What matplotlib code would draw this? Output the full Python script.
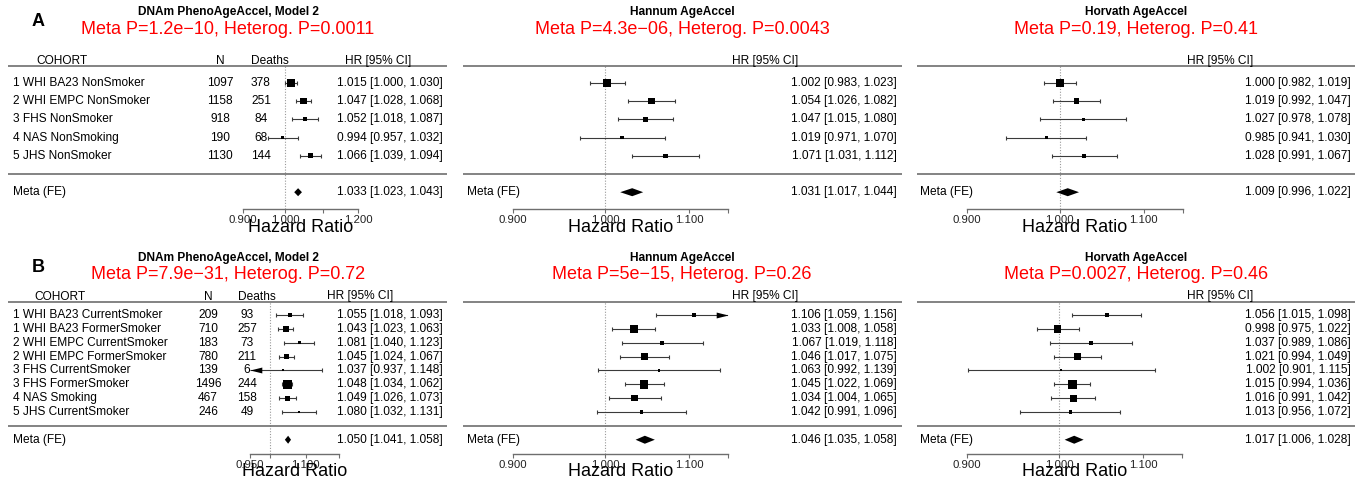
import numpy as np
import matplotlib
matplotlib.use("Agg")
import matplotlib.pyplot as plt
import matplotlib.transforms as mtransforms
from matplotlib.ticker import NullLocator

plt.rcParams['font.family'] = ['Liberation Sans', 'DejaVu Sans']

# ---------------- data ----------------
cohorts_ns = ["1 WHI BA23 NonSmoker", "2 WHI EMPC NonSmoker", "3 FHS NonSmoker",
              "4 NAS NonSmoking", "5 JHS NonSmoker"]
n_ns = [1097, 1158, 918, 190, 1130]
deaths_ns = [378, 251, 84, 68, 144]

pheno_ns_hr = [1.015, 1.047, 1.052, 0.994, 1.066]
pheno_ns_lo = [1.000, 1.028, 1.018, 0.957, 1.039]
pheno_ns_hi = [1.030, 1.068, 1.087, 1.032, 1.094]
pheno_ns_meta = [1.033, 1.023, 1.043]

hannum_ns_hr = [1.002, 1.054, 1.047, 1.019, 1.071]
hannum_ns_lo = [0.983, 1.026, 1.015, 0.971, 1.031]
hannum_ns_hi = [1.023, 1.082, 1.080, 1.070, 1.112]
hannum_ns_meta = [1.031, 1.017, 1.044]

horvath_ns_hr = [1.000, 1.019, 1.027, 0.985, 1.028]
horvath_ns_lo = [0.982, 0.992, 0.978, 0.941, 0.991]
horvath_ns_hi = [1.019, 1.047, 1.078, 1.030, 1.067]
horvath_ns_meta = [1.009, 0.996, 1.022]

cohorts_sm = ["1 WHI BA23 CurrentSmoker", "1 WHI BA23 FormerSmoker",
              "2 WHI EMPC CurrentSmoker", "2 WHI EMPC FormerSmoker",
              "3 FHS CurrentSmoker", "3 FHS FormerSmoker", "4 NAS Smoking",
              "5 JHS CurrentSmoker"]
n_sm = [209, 710, 183, 780, 139, 1496, 467, 246]
deaths_sm = [93, 257, 73, 211, 6, 244, 158, 49]

pheno_sm_hr = [1.055, 1.043, 1.081, 1.045, 1.037, 1.048, 1.049, 1.080]
pheno_sm_lo = [1.018, 1.023, 1.040, 1.024, 0.937, 1.034, 1.026, 1.032]
pheno_sm_hi = [1.093, 1.063, 1.123, 1.067, 1.148, 1.062, 1.073, 1.131]
pheno_sm_meta = [1.050, 1.041, 1.058]

hannum_sm_hr = [1.106, 1.033, 1.067, 1.046, 1.063, 1.045, 1.034, 1.042]
hannum_sm_lo = [1.059, 1.008, 1.019, 1.017, 0.992, 1.022, 1.004, 0.991]
hannum_sm_hi = [1.156, 1.058, 1.118, 1.075, 1.139, 1.069, 1.065, 1.096]
hannum_sm_meta = [1.046, 1.035, 1.058]

horvath_sm_hr = [1.056, 0.998, 1.037, 1.021, 1.002, 1.015, 1.016, 1.013]
horvath_sm_lo = [1.015, 0.975, 0.989, 0.994, 0.901, 0.994, 0.991, 0.956]
horvath_sm_hi = [1.098, 1.022, 1.086, 1.049, 1.115, 1.036, 1.042, 1.072]
horvath_sm_meta = [1.017, 1.006, 1.028]

titles = ["DNAm PhenoAgeAccel, Model 2", "Hannum AgeAccel", "Horvath AgeAccel"]
ptext_ns = ["Meta P=1.2e\u221210, Heterog. P=0.0011",
            "Meta P=4.3e\u221206, Heterog. P=0.0043",
            "Meta P=0.19, Heterog. P=0.41"]
ptext_sm = ["Meta P=7.9e\u221231, Heterog. P=0.72",
            "Meta P=5e\u221215, Heterog. P=0.26",
            "Meta P=0.0027, Heterog. P=0.46"]

# ---------------- figure ----------------
W, H, DPI = 1371, 484, 100
fig = plt.figure(figsize=(W / DPI, H / DPI), dpi=DPI)
fig.patch.set_facecolor("white")
PX = mtransforms.Affine2D().scale(1.0 / W, -1.0 / H).translate(0, 1) + fig.transFigure

FS = 8.6
LINE_GREY = "#6e6e6e"
CI_COL = "#3a3a3a"

RIGHT_ARROW = [(0, 0), (-2, 0.5), (-2, -0.5), (0, 0)]
LEFT_ARROW = [(0, 0), (2, 0.5), (2, -0.5), (0, 0)]


def forest(axis_px, lim, ticks, ticklabels, geo, hr, lo, hi, meta, cols, table=None):
    top_px, axis_y, row1_px, step = geo
    n = len(hr)
    r_top = 1 - (row1_px - top_px) / step
    r_bot = 1 + (axis_y - row1_px) / step
    x0, x1 = axis_px
    ax = fig.add_axes([x0 / W, 1 - axis_y / H, (x1 - x0) / W, (axis_y - top_px) / H])
    ax.set_xscale("log")
    ax.set_xlim(*lim)
    ax.set_ylim(r_bot, r_top)
    ax.patch.set_alpha(0)
    for s in ("top", "left", "right"):
        ax.spines[s].set_visible(False)
    ax.spines["bottom"].set_color(LINE_GREY)
    ax.spines["bottom"].set_linewidth(1.0)
    ax.set_yticks([])
    ax.xaxis.set_minor_locator(NullLocator())
    ax.set_xticks(ticks, labels=ticklabels)
    ax.tick_params(axis="x", length=3, width=0.8, color=LINE_GREY, pad=1,
                   labelsize=8.2, labelcolor="#222222")

    hr = np.asarray(hr, float)
    lo = np.asarray(lo, float)
    hi = np.asarray(hi, float)
    rows = np.arange(1, n + 1)

    ax.axvline(1.0, ls=(0, (1, 1.5)), color="#999999", lw=0.8, zorder=1)

    lo_c = np.clip(lo, lim[0], lim[1])
    hi_c = np.clip(hi, lim[0], lim[1])
    ax.hlines(rows, lo_c, hi_c, color=CI_COL, lw=0.8, zorder=2)
    in_lo = lo >= lim[0]
    in_hi = hi <= lim[1]
    ax.plot(lo[in_lo], rows[in_lo], ls="none", marker="|", ms=3.2, mew=0.8, color=CI_COL)
    ax.plot(hi[in_hi], rows[in_hi], ls="none", marker="|", ms=3.2, mew=0.8, color=CI_COL)
    if (~in_lo).any():
        ax.plot(lo_c[~in_lo], rows[~in_lo], ls="none", marker=LEFT_ARROW, ms=17,
                color="black", mew=0, clip_on=False)
    if (~in_hi).any():
        ax.plot(hi_c[~in_hi], rows[~in_hi], ls="none", marker=RIGHT_ARROW, ms=17,
                color="black", mew=0, clip_on=False)

    # boxes scaled by precision
    w = np.log(hi) - np.log(lo)
    size_px = np.maximum(8.5 * w.min() / w, 2.0)
    ax.scatter(hr, rows, s=(size_px * 0.72) ** 2, marker="s", color="black",
               linewidths=0, zorder=3)

    # summary diamond
    mr = n + 2
    h = 4.0 / step
    ax.fill([meta[1], meta[0], meta[2], meta[0]], [mr, mr - h, mr, mr + h],
            color="black", lw=0, zorder=3)

    tr = mtransforms.blended_transform_factory(PX, ax.transData)
    head_r = r_top - 5.5 / step
    # rules
    for r in (r_top, n + 1):
        ax.plot([cols["line"][0], cols["line"][1]], [r, r], transform=tr,
                color=LINE_GREY, lw=1.2, clip_on=False, solid_capstyle="butt")

    ax.text(cols["hr_head"], head_r, "HR [95% CI]", transform=tr, ha="center",
            va="center", fontsize=FS)
    for i in range(n):
        ax.text(cols["hr_right"], rows[i], "%.3f [%.3f, %.3f]" % (hr[i], lo[i], hi[i]),
                transform=tr, ha="right", va="center", fontsize=FS)
    ax.text(cols["hr_right"], mr, "%.3f [%.3f, %.3f]" % tuple(meta),
            transform=tr, ha="right", va="center", fontsize=FS)
    ax.text(cols["left"], mr, "Meta (FE)", transform=tr, ha="left", va="center",
            fontsize=FS)

    if table is not None:
        names, ns, ds = table
        ax.text(cols["cohort_head"], head_r, "COHORT", transform=tr, ha="center",
                va="center", fontsize=FS)
        ax.text(cols["n"], head_r, "N", transform=tr, ha="center", va="center", fontsize=FS)
        ax.text(cols["d_head"], head_r, "Deaths", transform=tr, ha="center",
                va="center", fontsize=FS)
        for i in range(n):
            ax.text(cols["left"], rows[i], names[i], transform=tr, ha="left",
                    va="center", fontsize=FS)
            ax.text(cols["n"], rows[i], str(ns[i]), transform=tr, ha="center",
                    va="center", fontsize=FS)
            ax.text(cols["d"], rows[i], str(ds[i]), transform=tr, ha="center",
                    va="center", fontsize=FS)

    return ax


def hr_label(ax, y_px):
    t = mtransforms.blended_transform_factory(ax.transAxes, PX)
    ax.text(0.5, y_px, "Hazard Ratio", transform=t, ha="center", va="center",
            fontsize=13, clip_on=False)


geo_ns = (66, 209, 83, 18.2)
geo_sm = (302, 454, 315, 13.86)

wide_lim = (0.9, 1.15)
wide_ticks = [0.9, 1.0, 1.1, 1.15]
wide_labels = ["0.900", "1.000", "1.100", ""]

cols_p_ns = dict(left=13, line=(8, 447), hr_right=443, hr_head=378, cohort_head=62,
                 n=220, d=261, d_head=270)
cols_p_sm = dict(left=13, line=(8, 447), hr_right=443, hr_head=360, cohort_head=60,
                 n=208, d=247, d_head=257)
cols_han = dict(left=467, line=(463, 902), hr_right=897, hr_head=765)
cols_hor = dict(left=920, line=(917, 1355), hr_right=1351, hr_head=1220)

# ---- row A: non-smokers ----
a1 = forest((243, 358), (0.9, 1.2), [0.9, 1.0, 1.1, 1.2], ["0.900", "1.000", "", "1.200"],
            geo_ns, pheno_ns_hr, pheno_ns_lo, pheno_ns_hi, pheno_ns_meta, cols_p_ns,
            table=(cohorts_ns, n_ns, deaths_ns))
a2 = forest((513, 728), wide_lim, wide_ticks, wide_labels, geo_ns,
            hannum_ns_hr, hannum_ns_lo, hannum_ns_hi, hannum_ns_meta, cols_han)
a3 = forest((967, 1183), wide_lim, wide_ticks, wide_labels, geo_ns,
            horvath_ns_hr, horvath_ns_lo, horvath_ns_hi, horvath_ns_meta, cols_hor)
for ax in (a1, a2, a3):
    hr_label(ax, 228)

# ---- row B: smokers ----
b1 = forest((250, 339), (0.95, 1.2), [0.95, 1.0, 1.1, 1.2], ["0.950", "", "1.100", ""],
            geo_sm, pheno_sm_hr, pheno_sm_lo, pheno_sm_hi, pheno_sm_meta, cols_p_sm,
            table=(cohorts_sm, n_sm, deaths_sm))
b2 = forest((513, 728), wide_lim, wide_ticks, wide_labels, geo_sm,
            hannum_sm_hr, hannum_sm_lo, hannum_sm_hi, hannum_sm_meta, cols_han)
b3 = forest((967, 1182), wide_lim, wide_ticks, wide_labels, geo_sm,
            horvath_sm_hr, horvath_sm_lo, horvath_sm_hi, horvath_sm_meta, cols_hor)
for ax in (b1, b2, b3):
    hr_label(ax, 472)

# ---- titles ----
centers = [228, 682, 1136]
for cx, t, p in zip(centers, titles, ptext_ns):
    fig.text(cx, 12.5, t, transform=PX, ha="center", va="center", fontsize=FS,
             fontweight="bold")
    fig.text(cx, 30, p, transform=PX, ha="center", va="center", fontsize=13, color="red")
for cx, t, p in zip(centers, titles, ptext_sm):
    fig.text(cx, 258, t, transform=PX, ha="center", va="center", fontsize=FS,
             fontweight="bold")
    fig.text(cx, 274.5, p, transform=PX, ha="center", va="center", fontsize=13, color="red")

fig.text(32, 21, "A", transform=PX, ha="left", va="center", fontsize=13, fontweight="bold")
fig.text(32, 267, "B", transform=PX, ha="left", va="center", fontsize=13, fontweight="bold")

fig.savefig("out.png", dpi=DPI, facecolor="white")
